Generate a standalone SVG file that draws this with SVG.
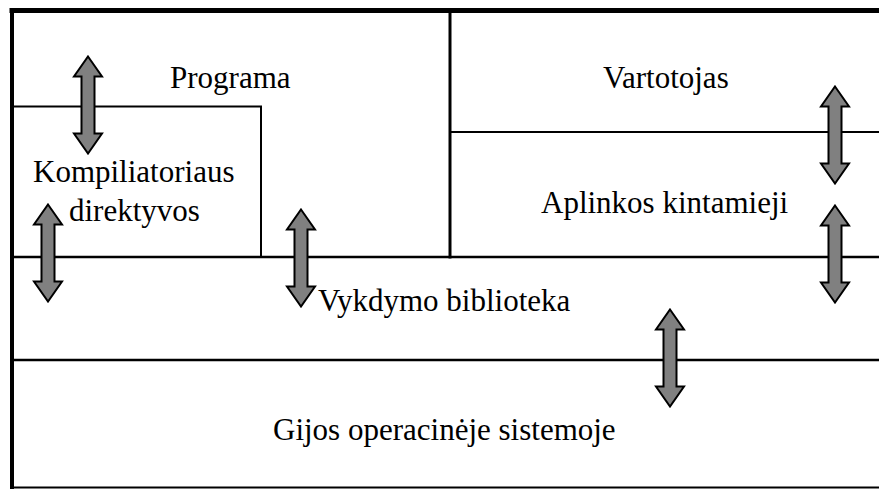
<svg xmlns="http://www.w3.org/2000/svg" xmlns:xlink="http://www.w3.org/1999/xlink" width="879" height="489" viewBox="0 0 879 489">
<style>
.ln{stroke:#000;fill:none;stroke-linecap:square}
.t{font-family:"Liberation Serif","Times New Roman",serif;font-size:31px;fill:#000}
.arr{fill:#808080;stroke:#000;stroke-width:2;stroke-linejoin:miter}
</style>
<defs>
<path id="dbl" d="M0,-48.5 L14,-28.5 L6.5,-28.5 L6.5,28.5 L14,28.5 L0,48.5 L-14,28.5 L-6.5,28.5 L-6.5,-28.5 L-14,-28.5 Z"/>
</defs>
<rect width="879" height="489" fill="#fff"/>
<g id="frame">
<line class="ln" x1="12" y1="10.5" x2="879" y2="10.5" stroke-width="5"/>
<line class="ln" x1="12" y1="10" x2="12" y2="487" stroke-width="4"/>
<line class="ln" x1="12" y1="487.5" x2="879" y2="487.5" stroke-width="2"/>
</g>
<g id="programa">
<line class="ln" x1="450" y1="10" x2="450" y2="257" stroke-width="3"/>
<text class="t" x="170" y="88">Programa</text>
</g>
<g id="kompiliatoriaus">
<polyline class="ln" points="12,106.5 261,106.5 261,257" stroke-width="2"/>
<text class="t" x="33" y="182">Kompiliatoriaus</text>
<text class="t" x="69" y="221">direktyvos</text>
</g>
<g id="vartotojas">
<text class="t" x="603" y="88">Vartotojas</text>
</g>
<g id="aplinkos">
<line class="ln" x1="450" y1="132" x2="879" y2="132" stroke-width="2"/>
<text class="t" x="541" y="213">Aplinkos kintamieji</text>
</g>
<g id="vykdymo">
<line class="ln" x1="12" y1="257" x2="879" y2="257" stroke-width="2.5"/>
<text class="t" x="318" y="311">Vykdymo biblioteka</text>
</g>
<g id="gijos">
<line class="ln" x1="12" y1="360" x2="879" y2="360" stroke-width="2.5"/>
<text class="t" x="273" y="440">Gijos operacinėje sistemoje</text>
</g>
<g id="connectors">
<use xlink:href="#dbl" class="arr" x="88" y="105"/>
<use xlink:href="#dbl" class="arr" x="48" y="253"/>
<use xlink:href="#dbl" class="arr" x="301" y="258"/>
<use xlink:href="#dbl" class="arr" x="835" y="135"/>
<use xlink:href="#dbl" class="arr" x="835" y="254"/>
<use xlink:href="#dbl" class="arr" x="670" y="358"/>
</g>
</svg>
